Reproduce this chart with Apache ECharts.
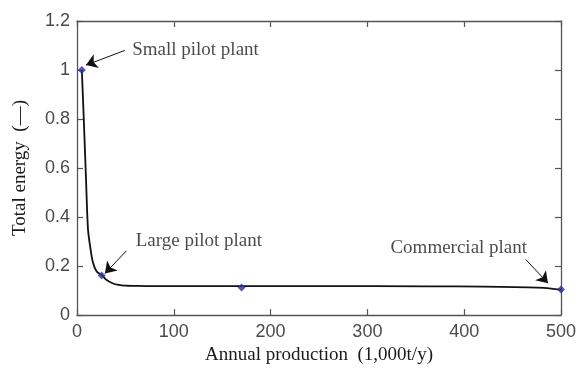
<!DOCTYPE html>
<html>
<head>
<meta charset="utf-8">
<script src="https://cdn.jsdelivr.net/npm/echarts@6/dist/echarts.min.js"></script>
<style>html,body{margin:0;padding:0;background:#fff;}#c{width:579px;height:370px;}</style>
</head>
<body>
<div id="c"></div>
<script>
// Fitted curve
const curveX = [5, 7, 9.3, 11.3, 13.4, 16.2, 20.3, 25.7, 30, 36.7, 43, 50, 60, 80, 120, 170, 250, 363, 420, 476, 490, 500];
const curveY = [1.0, 0.80, 0.555, 0.353, 0.285, 0.219, 0.178, 0.163, 0.145, 0.130, 0.123, 0.120, 0.119, 0.118, 0.118, 0.118, 0.118, 0.1175, 0.116, 0.112, 0.108, 0.103];
// Plant data points
const plantX = [5, 25.5, 170, 500];
const plantY = [1.0, 0.162, 0.113, 0.104];
// Annotations
const noteText = ['Small pilot plant', 'Large pilot plant', 'Commercial plant'];
const noteX = [57, 60.7, 323.8];
const noteY = [1.082, 0.304, 0.274];
const arrowFromX = [49.4, 51, 463.6];
const arrowFromY = [1.08, 0.262, 0.227];
const arrowToX = [9.3, 28.8, 486.6];
const arrowToY = [1.02, 0.17, 0.13];
// Axis ticks
const xTicks = [0, 100, 200, 300, 400, 500];
const yTicks = [0, 0.2, 0.4, 0.6, 0.8, 1, 1.2];

const serif = 'Liberation Serif';
const sans = 'Liberation Sans';
const axisColor = '#555';
const labelColor = '#4a4a4a';

const chart = echarts.init(document.getElementById('c'));
const baseX = {
  type: 'value', min: xTicks[0], max: xTicks[xTicks.length - 1], interval: 100,
  axisLine: { show: true, onZero: false, lineStyle: { color: axisColor, width: 1.3 } },
  axisTick: { show: true, inside: true, length: 6, lineStyle: { color: axisColor, width: 1.2 } },
  splitLine: { show: false }
};
const baseY = {
  type: 'value', min: yTicks[0], max: yTicks[yTicks.length - 1], interval: 0.2,
  axisLine: { show: true, onZero: false, lineStyle: { color: axisColor, width: 1.3 } },
  axisTick: { show: true, inside: true, length: 6, lineStyle: { color: axisColor, width: 1.2 } },
  splitLine: { show: false }
};

chart.setOption({
  animation: false,
  backgroundColor: '#fff',
  grid: { left: 77, right: 18, top: 21, bottom: 53, containLabel: false },
  xAxis: [
    Object.assign({}, baseX, {
      position: 'bottom',
      axisLabel: { show: true, margin: 8, fontFamily: sans, fontSize: 18, color: labelColor },
      name: 'Annual production  (1,000t/y)',
      nameLocation: 'middle', nameGap: 30,
      nameTextStyle: { fontFamily: serif, fontSize: 19, color: '#1a1a1a' }
    }),
    Object.assign({}, baseX, { position: 'top', axisLabel: { show: false } })
  ],
  yAxis: [
    Object.assign({}, baseY, {
      position: 'left',
      axisLabel: { show: true, margin: 7, fontFamily: sans, fontSize: 18, color: labelColor },
      name: 'Total energy  (—)',
      nameLocation: 'middle', nameGap: 47,
      nameTextStyle: { fontFamily: serif, fontSize: 19, color: '#1a1a1a' }
    }),
    Object.assign({}, baseY, { position: 'right', axisLabel: { show: false } })
  ],
  series: [
    {
      type: 'line', name: 'curve',
      data: curveX.map((x, i) => [x, curveY[i]]),
      smooth: 0.3, showSymbol: false,
      lineStyle: { color: '#111', width: 1.8 },
      z: 2
    },
    {
      type: 'scatter', name: 'plants',
      data: plantX.map((x, i) => [x, plantY[i]]),
      symbol: 'diamond', symbolSize: 8,
      itemStyle: { color: '#2b2f9a' },
      z: 4
    },
    {
      type: 'scatter', name: 'notes',
      data: noteText.map((t, i) => ({ name: t, value: [noteX[i], noteY[i]] })),
      symbolSize: 0,
      label: { show: true, position: 'right', distance: 0, formatter: p => p.name,
               fontFamily: serif, fontSize: 19, color: '#1a1a1a' },
      silent: true,
      markLine: {
        silent: true,
        symbol: ['none', 'arrow'],
        symbolSize: 11,
        label: { show: false },
        lineStyle: { color: '#111', width: 1, type: 'solid' },
        data: arrowFromX.map((x, i) => [
          { coord: [x, arrowFromY[i]] },
          { coord: [arrowToX[i], arrowToY[i]] }
        ])
      },
      z: 5
    }
  ]
});
</script>
</body>
</html>
